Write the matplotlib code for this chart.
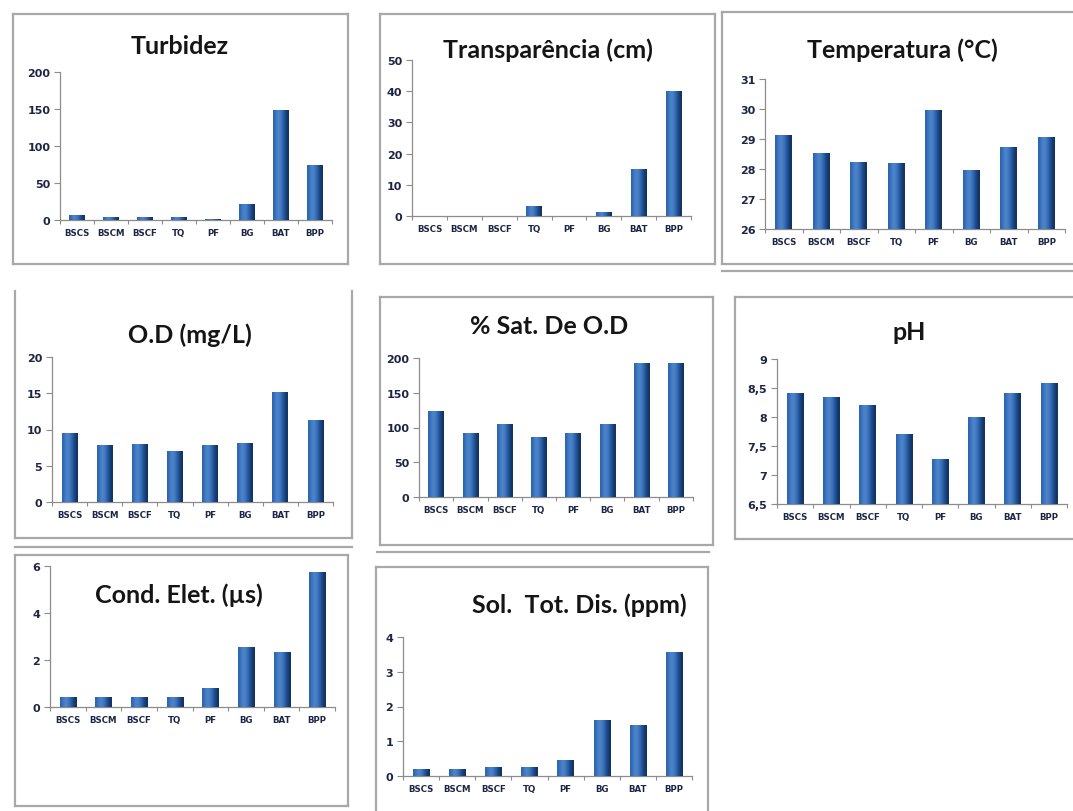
import matplotlib
matplotlib.use("Agg")
import matplotlib.pyplot as plt
import numpy as np
from matplotlib.lines import Line2D

W, H = 1073, 812

estacoes = ["BSCS", "BSCM", "BSCF", "TQ", "PF", "BG", "BAT", "BPP"]

turbidez = [6, 4, 4, 4, 1, 21, 148, 73]
transparencia = [0, 0, 0, 3, 0, 1, 15, 40]
temperatura = [29.13, 28.53, 28.22, 28.17, 29.94, 27.94, 28.72, 29.06]
od = [9.5, 7.8, 7.9, 6.9, 7.8, 8.1, 15.05, 11.3]
sat_od = [123, 92, 104, 85, 92, 105, 192, 192]
ph = [8.4, 8.34, 8.2, 7.69, 7.26, 7.99, 8.4, 8.58]
cond_elet = [0.4, 0.4, 0.4, 0.4, 0.78, 2.54, 2.3, 5.72]
sol_tot = [0.19, 0.19, 0.24, 0.24, 0.45, 1.61, 1.45, 3.54]

TXT = "#1c2546"
GRID = "#8c8c8c"
FRAME = "#a8a8a8"

# gradiente horizontal estilo cilindro do Excel
grad = np.array([[0.5, 0.3, 0.22, 0.32, 0.52, 0.78, 0.97]])
cmap = matplotlib.colors.LinearSegmentedColormap.from_list(
    "barra", ["#6a9fe0", "#2b64b0", "#102f5e"])

plt.rcParams["font.family"] = ["Lato", "DejaVu Sans"]
fig = plt.figure(figsize=(W / 100, H / 100), dpi=100)
fig.patch.set_facecolor("white")


def fx(x):
    return x / W


def fy(y):
    return 1 - y / H


def moldura(x0, y0, x1, y1, lados="ltrb"):
    pts = {"l": ([x0, x0], [y0, y1]), "r": ([x1, x1], [y0, y1]),
           "t": ([x0, x1], [y0, y0]), "b": ([x0, x1], [y1, y1])}
    for k in lados:
        xs, ys = pts[k]
        fig.add_artist(Line2D([fx(v) for v in xs], [fy(v) for v in ys],
                              color=FRAME, lw=1.6, transform=fig.transFigure))


def painel(box, valores, ylim, passo, titulo, tpos, rotulos=None):
    x0, y0, x1, y1 = box
    ax = fig.add_axes([fx(x0), fy(y1), fx(x1 - x0), (y1 - y0) / H])
    ax.set_facecolor("none")
    xs = np.arange(len(estacoes))
    base = ylim[0]
    barras = ax.bar(xs, np.array(valores) - base, bottom=base, width=0.45,
                    color="#2b64b0", zorder=2)
    for b in barras:
        bx, by = b.get_x(), b.get_y()
        ax.imshow(grad, cmap=cmap, vmin=0, vmax=1, aspect="auto",
                  extent=[bx, bx + b.get_width(), by, by + b.get_height()],
                  clip_path=b, zorder=3, interpolation="bicubic")
    ax.set_xlim(-0.5, len(estacoes) - 0.5)
    ax.set_ylim(*ylim)
    ticks = np.arange(ylim[0], ylim[1] + passo / 2, passo)
    if rotulos is None:
        rotulos = [f"{t:g}" for t in ticks]
    ax.set_yticks(ticks)
    ax.set_yticklabels(rotulos, fontweight="bold", fontsize=8, color=TXT,
                       family="DejaVu Sans")
    ax.set_xticks(xs)
    ax.set_xticklabels(estacoes, fontweight="bold", fontsize=6.2, color=TXT,
                       family="DejaVu Sans")
    ax.set_xticks(np.arange(-0.5, len(estacoes)), minor=True)
    ax.tick_params(axis="x", which="major", length=0, pad=6)
    ax.tick_params(axis="x", which="minor", length=3, color=GRID, width=0.8)
    ax.tick_params(axis="y", length=4, color=GRID, width=0.8, pad=3)
    for s in ["top", "right"]:
        ax.spines[s].set_visible(False)
    for s in ["left", "bottom"]:
        ax.spines[s].set_color(GRID)
        ax.spines[s].set_linewidth(0.9)
    tx, ty, ha = tpos
    fig.text(fx(tx), fy(ty), titulo, ha=ha, va="center", fontsize=18,
             fontweight="bold", color="#151515")
    return ax


# molduras dos graficos
moldura(13, 15, 348, 265)
moldura(380, 15, 715, 265)
moldura(722, 13, 1072, 265, "ltb")
moldura(722, 272, 1073, 272, "t")
moldura(15, 292, 352, 539, "lrb")
moldura(15, 548, 352, 548, "t")
moldura(380, 298, 713, 546)
moldura(377, 553, 709, 553, "t")
moldura(735, 298, 1072, 540, "ltb")
moldura(15, 556, 348, 807)
moldura(376, 568, 708, 812, "ltr")

painel((60, 73, 332, 221), turbidez, (0, 200), 50, "Turbidez", (180, 47, "center"))
painel((412, 61, 691, 217), transparencia, (0, 50), 10, "Transparência (cm)",
       (548, 50, "center"))
painel((765, 80, 1065, 230), temperatura, (26, 31), 1, "Temperatura (°C)",
       (902, 50, "center"))
painel((52, 358, 333, 503), od, (0, 20), 5, "O.D (mg/L)", (190, 335, "center"))
painel((419, 359, 693, 498), sat_od, (0, 200), 50, "% Sat. De O.D",
       (549, 327, "center"))
painel((777, 360, 1067, 505), ph, (6.5, 9), 0.5, "pH", (909, 333, "center"),
       rotulos=["6,5", "7", "7,5", "8", "8,5", "9"])
painel((50, 567, 335, 708), cond_elet, (0, 6), 2, "Cond. Elet. (µs)",
       (179, 595, "center"))
painel((403, 638, 692, 777), sol_tot, (0, 4), 1, "Sol.  Tot. Dis. (ppm)",
       (687, 605, "right"))

fig.savefig("out.png", dpi=100, facecolor="white")
